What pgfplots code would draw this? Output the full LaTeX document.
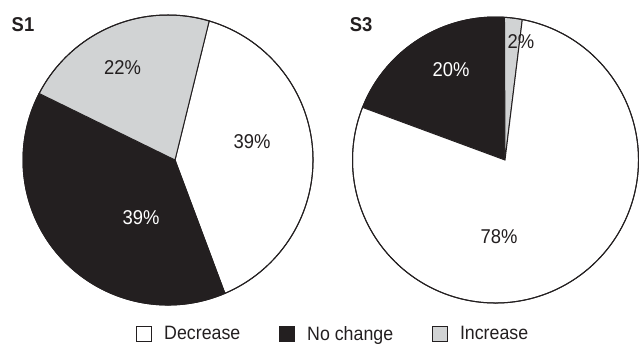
\documentclass[border=0pt]{standalone}
\usepackage{fontspec}
\setmainfont{Liberation Sans}[FakeStretch=0.92]
\usepackage{pgfplots}
\pgfplotsset{compat=1.18}

\definecolor{inkblack}{RGB}{35,31,32}
\definecolor{lightgrey}{RGB}{209,211,212}

% One wedge: circle centre (#1,#2), apex (#3,#4), radius #5 (axis units),
% start angle #6, share #7 in percent (sign gives the direction), fill #8
\newcommand{\pieslice}[8]{%
  \filldraw[fill=#8, draw=inkblack, line width=0.75pt, line join=miter]
    (axis cs:#3,#4) -- (axis cs:{#1+#5*cos(#6)},{#2+#5*sin(#6)})
    arc[start angle={#6}, delta angle={3.6*(#7)}, radius={#5*0.75pt}] -- cycle;}

\begin{document}
\begin{tikzpicture}
\begin{axis}[
  x=0.75pt, y=0.75pt,
  xmin=0, xmax=639, ymin=0, ymax=344,
  hide axis, clip=false,
  legend columns=3,
  legend style={draw=none, fill=none, at={(axis cs:333.5,10)}, anchor=center,
    font=\fontsize{14.5}{16}\selectfont\color{inkblack},
    /tikz/every odd column/.append style={column sep=7pt},
    /tikz/every even column/.append style={column sep=27pt},
    inner sep=0pt},
]
% S1: Decrease 39, No change 39, Increase 22 (clockwise from 73.5 deg)
\pieslice{168}{184}{175}{184}{145}{73.5}{-39}{white}
\pieslice{168}{184}{175}{184}{145}{73.5-3.6*39}{-39}{inkblack}
\pieslice{168}{184}{175}{184}{145}{73.5-3.6*78}{-22}{lightgrey}
\draw[inkblack, line width=0.75pt] (axis cs:168,184) circle[radius=145*0.75pt];

% S3: No change 20 (anticlockwise), Increase 2 and Decrease 78 (clockwise)
\pieslice{495.5}{184}{505}{184}{143}{86.4}{20}{inkblack}
\pieslice{495.5}{184}{505}{184}{143}{86.4}{-2}{lightgrey}
\pieslice{495.5}{184}{505}{184}{143}{86.4-3.6*2}{-78}{white}
\draw[inkblack, line width=0.75pt] (axis cs:495.5,184) circle[radius=143*0.75pt];

\begin{scope}[font=\fontsize{15}{18}\selectfont]
\node[inkblack] at (axis cs:122.5,276) {22\%};
\node[inkblack] at (axis cs:252,202) {39\%};
\node[white]    at (axis cs:141,126.5) {39\%};
\node[white]    at (axis cs:451,274.5) {20\%};
\node[inkblack] at (axis cs:521,302) {2\%};
\node[inkblack] at (axis cs:499,107.5) {78\%};
\node[inkblack, font=\fontsize{15}{18}\selectfont\bfseries] at (axis cs:23,319) {S1};
\node[inkblack, font=\fontsize{15}{18}\selectfont\bfseries] at (axis cs:361,319) {S3};
\end{scope}

\addlegendimage{legend image code/.code={\filldraw[fill=white,draw=inkblack,line width=0.6pt] (0pt,-5.8pt) rectangle (11.5pt,5.8pt);}}
\addlegendentry{Decrease}
\addlegendimage{legend image code/.code={\filldraw[fill=inkblack,draw=inkblack,line width=0.6pt] (0pt,-5.8pt) rectangle (11.5pt,5.8pt);}}
\addlegendentry{No change}
\addlegendimage{legend image code/.code={\filldraw[fill=lightgrey,draw=inkblack,line width=0.6pt] (0pt,-5.8pt) rectangle (11.5pt,5.8pt);}}
\addlegendentry{Increase}
\end{axis}
% the page is exactly the plotting area
\pgfresetboundingbox
\useasboundingbox (current axis.south west) rectangle (current axis.north east);
\end{tikzpicture}
\end{document}
